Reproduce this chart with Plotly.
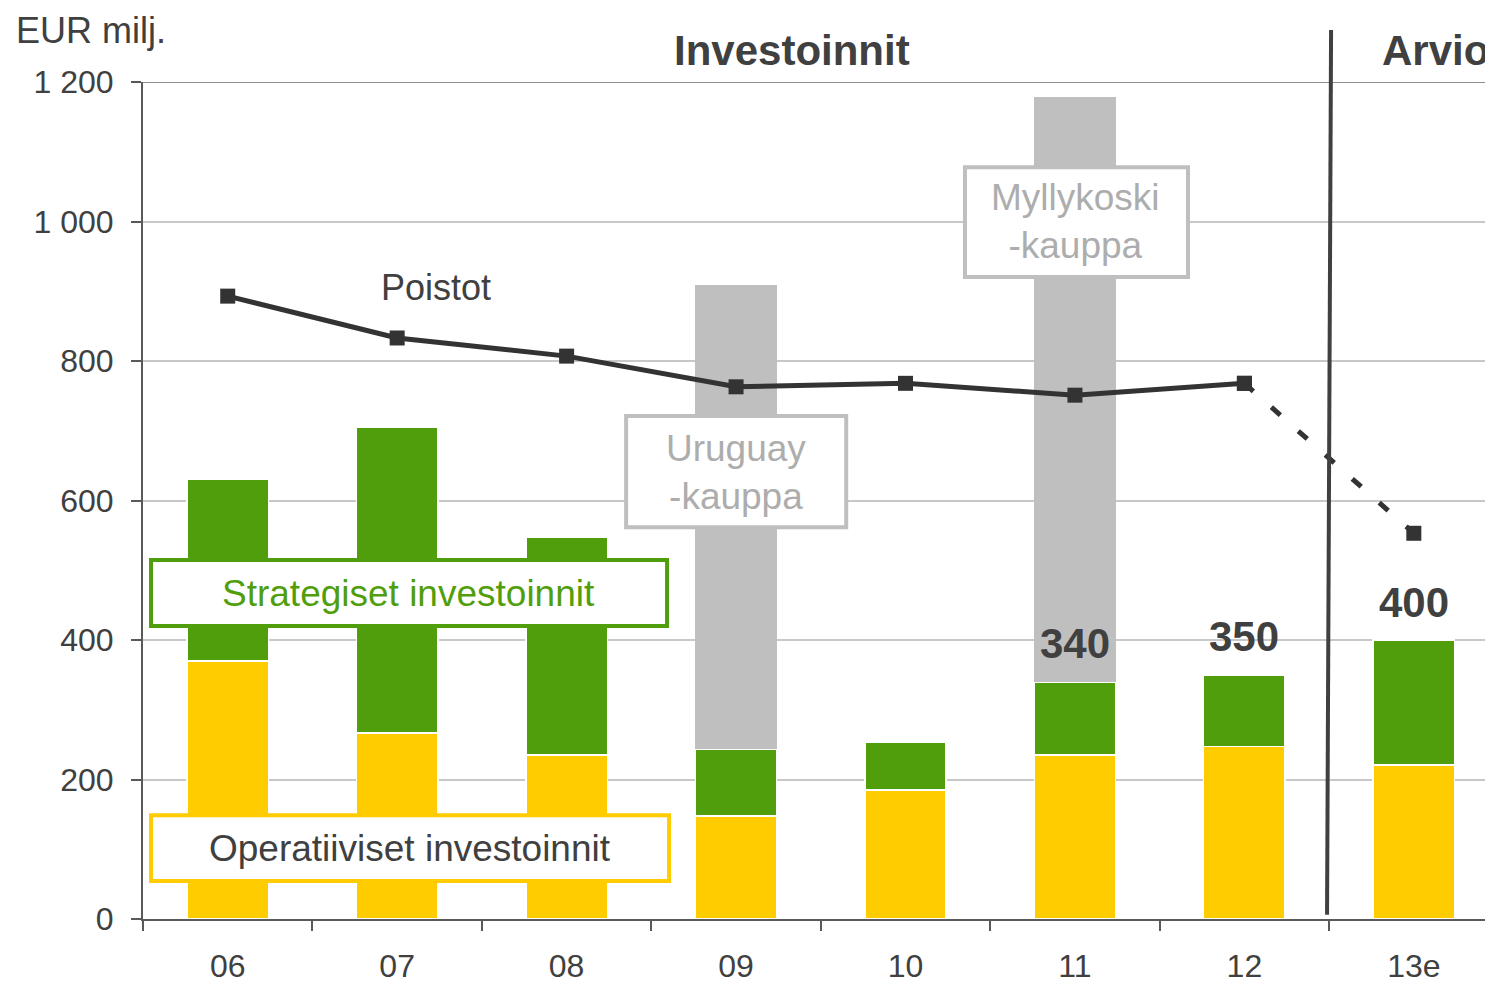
import plotly.graph_objects as go

years = ["06", "07", "08", "09", "10", "11", "12", "13e"]
operatiiviset = [370, 267, 235, 148, 185, 235, 247, 221]
strategiset = [260, 438, 313, 96, 69, 105, 103, 179]
yritysostot = [0, 0, 0, 665, 0, 838, 0, 0]
poistot = [893, 833, 807, 763, 768, 751, 768, 553]
totals_shown = {"11": 340, "12": 350, "13e": 400}

yticks = [0, 200, 400, 600, 800, 1000, 1200]
yticktext = ["0", "200", "400", "600", "800", "1 000", "1 200"]

YELLOW = "#FFCC00"
GREEN = "#519E0C"
GREY = "#BFBFBF"
DARK = "#404040"
FONT = "Liberation Sans, Arial, sans-serif"

fig = go.Figure()
fig.add_trace(go.Bar(x=years, y=operatiiviset, marker=dict(color=YELLOW, line=dict(color="white", width=1.5)), width=0.48))
fig.add_trace(go.Bar(x=years, y=strategiset, marker=dict(color=GREEN, line=dict(color="white", width=1.5)), width=0.48))
fig.add_trace(go.Bar(x=years, y=yritysostot, marker=dict(color=GREY, line=dict(color="white", width=0)), width=0.48))

# poistot: solid through 12, dashed to the 13e estimate
fig.add_trace(go.Scatter(x=years[:7], y=poistot[:7], mode="lines+markers",
                         line=dict(color="#333333", width=5),
                         marker=dict(symbol="square", size=15, color="#333333")))
fig.add_trace(go.Scatter(x=years[6:], y=poistot[6:], mode="lines+markers",
                         line=dict(color="#333333", width=5, dash="12px,24px"),
                         marker=dict(symbol="square", size=15, color="#333333")))

# category axis: refer to labels by index (strings like "11" get read as numbers)
for yr, val in totals_shown.items():
    fig.add_annotation(x=years.index(yr), y=val, text="<b>%d</b>" % val, showarrow=False,
                       xanchor="center", yanchor="middle", yshift=38, font=dict(size=42, color=DARK))

# label boxes
boxes = [
    (0.006, 0.3905, 0.350, 0.429, GREEN, "Strategiset investoinnit", GREEN, 0.198, 0.389),
    (0.006, 0.392, 0.0454, 0.124, YELLOW, "Operatiiviset investoinnit", DARK, 0.199, 0.0848),
    (0.360, 0.524, 0.468, 0.601, GREY, "Uruguay<br>-kauppa", "#ADADAD", 0.442, 0.534),
    (0.6125, 0.7787, 0.767, 0.898, GREY, "Myllykoski<br>-kauppa", "#ADADAD", 0.695, 0.833),
]
for x0, x1, y0, y1, col, txt, tcol, tx, ty in boxes:
    fig.add_shape(type="rect", xref="paper", yref="paper", x0=x0, x1=x1, y0=y0, y1=y1,
                  line=dict(color=col, width=4), fillcolor="white", layer="above")
    fig.add_annotation(xref="paper", yref="paper", x=tx, y=ty, text=txt, showarrow=False,
                       xanchor="center", yanchor="middle",
                       font=dict(size=37, color=tcol), align="center")

# top gridline and estimate divider
fig.add_shape(type="line", xref="paper", yref="y", x0=0, x1=1, y0=1200, y1=1200,
              line=dict(color="#909090", width=2))
fig.add_shape(type="line", xref="paper", yref="paper", x0=0.8823, x1=0.8853, y0=0.005, y1=1.062,
              line=dict(color=DARK, width=4))

fig.add_annotation(xref="paper", yref="paper", x=-0.0961, y=1.062, text="EUR milj.", showarrow=False,
                   xanchor="left", yanchor="middle", font=dict(size=36, color=DARK))
fig.add_annotation(xref="paper", yref="paper", x=0.4836, y=1.038, text="<b>Investoinnit</b>", showarrow=False,
                   xanchor="center", yanchor="middle", font=dict(size=42, color=DARK))
fig.add_annotation(xref="paper", yref="paper", x=0.922, y=1.038, text="<b>Arvio</b>", showarrow=False,
                   xanchor="left", yanchor="middle", font=dict(size=42, color=DARK))
fig.add_annotation(xref="paper", yref="paper", x=0.2183, y=0.755, text="Poistot", showarrow=False,
                   xanchor="center", yanchor="middle", font=dict(size=36, color=DARK))

fig.update_layout(
    width=1485, height=981,
    margin=dict(l=143, r=0, t=82, b=62),
    barmode="stack", showlegend=False,
    plot_bgcolor="white", paper_bgcolor="white",
    font=dict(family=FONT, color=DARK),
    xaxis=dict(type="category", range=[-0.5, 7.42], tickson="boundaries", ticks="outside",
               ticklen=10, tickwidth=2, tickcolor="#595959", showline=True, linecolor="#595959",
               linewidth=2, showgrid=False, tickfont=dict(size=32, color=DARK), ticklabelstandoff=18,
               automargin=False),
    yaxis=dict(range=[0, 1200], tickvals=yticks, ticktext=yticktext, ticks="outside", ticklen=10,
               tickwidth=2, tickcolor="#595959", showline=True, linecolor="#595959", linewidth=2,
               gridcolor="#C8C8C8", gridwidth=2, zeroline=False,
               tickfont=dict(size=32, color=DARK), ticklabelstandoff=11, automargin=False),
)

# drop the default body margin so the figure fills the window exactly
fig.write_html("out.html", config={"displayModeBar": False},
               post_script="document.body.style.margin='0';document.body.style.overflow='hidden';")
